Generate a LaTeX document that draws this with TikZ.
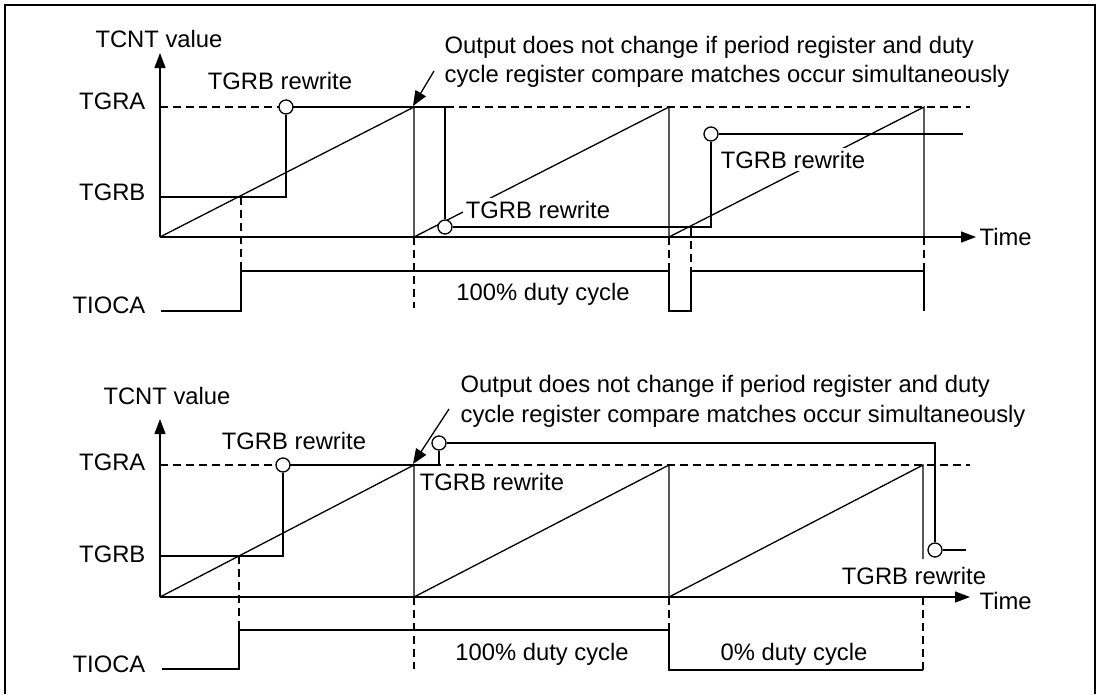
\documentclass[tikz,border=0pt]{standalone}
\usepackage{fontspec}
\setmainfont{Liberation Sans}
\usetikzlibrary{arrows.meta}
\begin{document}
\begin{tikzpicture}[x=1pt,y=-1pt,line width=1.3pt,
  lbl/.style={font=\fontsize{23.8}{28}\selectfont, inner sep=0pt},
  lblw/.style={lbl, fill=white, inner sep=3pt},
  circ/.style={circle, draw, fill=white, minimum size=14pt, inner sep=0pt, line width=1.3pt},
  dsh/.style={line width=1.1pt, dash pattern=on 8pt off 5pt},
  arr/.style={-{Triangle[length=15pt,width=11pt]}},
  marr/.style={-{Triangle[length=15pt,width=12pt]}}]
\useasboundingbox (0,0) rectangle (1100,694);
% frame
\coordinate (fbl) at (5,694); \coordinate (ftl) at (5,5);
\coordinate (ftr) at (1095,5); \coordinate (fbr) at (1095,694);
\draw (fbl) -- (ftl) -- (ftr) -- (fbr);

% ================= TOP PANEL =================
\coordinate (o1) at (160,237);
\coordinate (ya1) at (160,53);
\coordinate (xa1) at (976,237);
\coordinate (ga1s) at (160,107); \coordinate (ga1e) at (970,107);
\draw[dsh] (ga1s) -- (ga1e);
% sawtooth
\coordinate (p1a) at (414,107); \coordinate (b1a) at (414,237);
\coordinate (p1b) at (669,107); \coordinate (b1b) at (669,237);
\coordinate (p1c) at (924,107); \coordinate (b1c) at (924,237);
\draw (o1) -- (p1a) -- (b1a) -- (p1b) -- (b1b) -- (p1c) -- (b1c);
\draw[arr] (o1) -- (ya1);
\draw[arr] (o1) -- (xa1);
% TIOCA waveform
\coordinate (t1a) at (161,311); \coordinate (t1b) at (241,311);
\coordinate (t1c) at (241,271); \coordinate (t1d) at (669,271);
\coordinate (t1e) at (669,311); \coordinate (t1f) at (691,311);
\coordinate (t1g) at (691,271); \coordinate (t1h) at (924,271);
\coordinate (t1i) at (924,311);
\draw (t1a) -- (t1b) -- (t1c) -- (t1d) -- (t1e) -- (t1f) -- (t1g) -- (t1h) -- (t1i);
% dashed guides
\coordinate (d1a) at (241,197); \coordinate (d1b) at (414,308);
\coordinate (d1c) at (691,228);
\draw[dsh] (d1a) -- (t1c);
\draw[dsh] (b1a) -- (d1b);
\draw[dsh] (b1b) -- (t1d);
\draw[dsh] (d1c) -- (t1g);
\draw[dsh] (b1c) -- (t1h);
% labels with white background
\node[lblw, anchor=base] (rw1b) at (538,218) {TGRB rewrite};
\node[lblw, anchor=base] (rw1c) at (793,168) {TGRB rewrite};
% register (TGRB) line with rewrite points
\node[circ] (c1a) at (286,107) {};
\node[circ] (c1b) at (445,227) {};
\node[circ] (c1c) at (711,134) {};
\coordinate (s1) at (160,197); \coordinate (e1) at (963,134);
\draw (s1) -| (c1a);
\draw (c1a) -| (c1b);
\draw (c1b) -| (c1c);
\draw (c1c) -- (e1);
% labels
\node[lbl, anchor=base] (tcnt1) at (159,47) {TCNT value};
\node[lbl, anchor=base east] (tgra1) at (146,109) {TGRA};
\node[lbl, anchor=base east] (tgrb1) at (146,200) {TGRB};
\node[lbl, anchor=base east] (tioca1) at (146,313) {TIOCA};
\node[lbl, anchor=base] (rw1a) at (280,89) {TGRB rewrite};
\node[lbl, anchor=base] (duty1) at (543,300) {100\% duty cycle};
\node[lbl, anchor=base west] (out1a) at (444,53) {Output does not change if period register and duty};
\node[lbl, anchor=base west] (out1b) at (444,82) {cycle register compare matches occur simultaneously};
\node[lbl, anchor=base west] (time1) at (979,245) {Time};
\coordinate (a1s) at (434,71); \coordinate (a1e) at (413,106);
\draw[marr] (a1s) -- (a1e);

% ================= BOTTOM PANEL =================
\coordinate (o2) at (160,597);
\coordinate (ya2) at (160,419);
\coordinate (xa2) at (970,597);
\coordinate (ga2s) at (160,465); \coordinate (ga2e) at (970,465);
\draw[dsh] (ga2s) -- (ga2e);
\coordinate (p2a) at (414,465); \coordinate (b2a) at (414,597);
\coordinate (p2b) at (669,465); \coordinate (b2b) at (669,597);
\coordinate (p2c) at (923,465); \coordinate (b2c) at (923,559);
\coordinate (b2d) at (923,597);
\draw (o2) -- (p2a) -- (b2a) -- (p2b) -- (b2b) -- (p2c) -- (b2c);
\draw[arr] (o2) -- (ya2);
\draw[arr] (o2) -- (xa2);
% TIOCA waveform
\coordinate (t2a) at (162,669); \coordinate (t2b) at (239,669);
\coordinate (t2c) at (239,630); \coordinate (t2d) at (669,630);
\coordinate (t2e) at (669,670); \coordinate (t2f) at (923,670);
\draw (t2a) -- (t2b) -- (t2c) -- (t2d) -- (t2e) -- (t2f);
% dashed guides
\coordinate (d2a) at (239,556); \coordinate (d2b) at (414,669);
\draw[dsh] (d2a) -- (t2c);
\draw[dsh] (b2a) -- (d2b);
\draw[dsh] (b2b) -- (t2d);
\draw[dsh] (b2d) -- (t2f);
% register line
\node[circ] (c2a) at (283,465) {};
\node[circ] (c2b) at (439,443) {};
\node[circ] (c2c) at (935,550) {};
\coordinate (s2) at (160,556); \coordinate (e2) at (966,550);
\draw (s2) -| (c2a);
\draw (c2a) -| (c2b);
\draw (c2b) -| (c2c);
\draw (c2c) -- (e2);
% labels
\node[lbl, anchor=base] (tcnt2) at (167,404) {TCNT value};
\node[lbl, anchor=base east] (tgra2) at (146,470) {TGRA};
\node[lbl, anchor=base east] (tgrb2) at (146,562) {TGRB};
\node[lbl, anchor=base east] (tioca2) at (146,672) {TIOCA};
\node[lbl, anchor=base] (rw2a) at (294,449) {TGRB rewrite};
\node[lbl, anchor=base] (rw2b) at (492,490) {TGRB rewrite};
\node[lbl, anchor=base] (rw2c) at (914,584) {TGRB rewrite};
\node[lbl, anchor=base] (duty2a) at (542,660) {100\% duty cycle};
\node[lbl, anchor=base] (duty2b) at (794,660) {0\% duty cycle};
\node[lbl, anchor=base west] (out2a) at (460,392) {Output does not change if period register and duty};
\node[lbl, anchor=base west] (out2b) at (460,422) {cycle register compare matches occur simultaneously};
\node[lbl, anchor=base west] (time2) at (979,609) {Time};
\coordinate (a2s) at (449,409); \coordinate (a2e) at (413,464);
\draw[marr] (a2s) -- (a2e);
\end{tikzpicture}
\end{document}
